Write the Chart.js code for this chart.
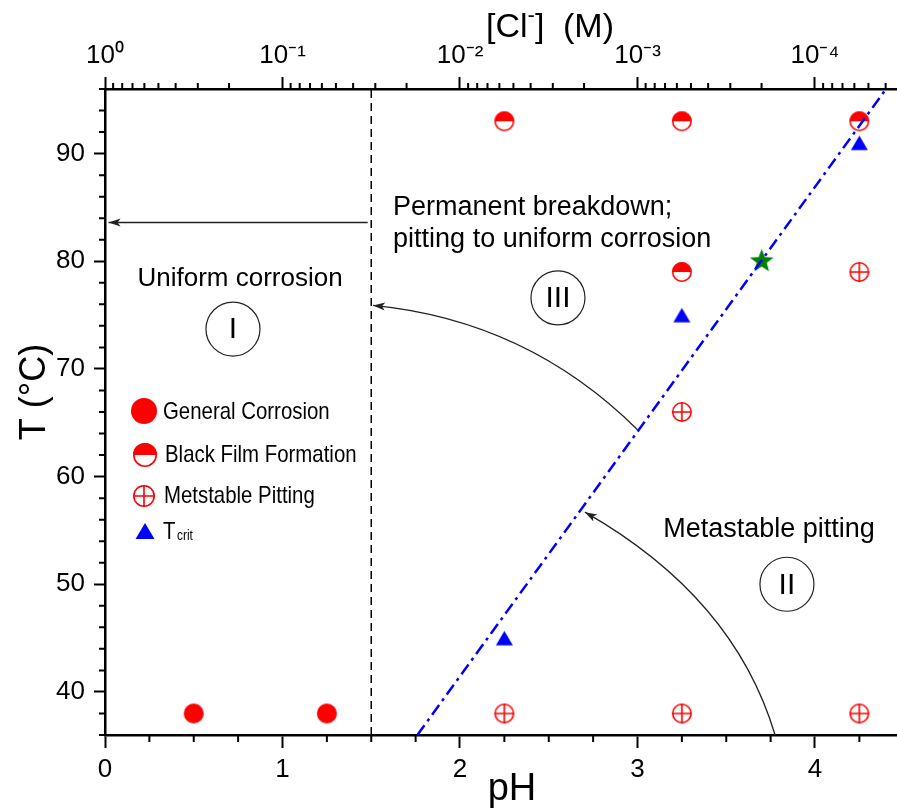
<!DOCTYPE html>
<html>
<head>
<meta charset="utf-8">
<title>Corrosion regimes vs pH and temperature</title>
<script src="https://cdn.jsdelivr.net/npm/chart.js@4.4.1/dist/chart.umd.min.js"></script>
<style>
  html, body { margin: 0; padding: 0; background: #fff; overflow: hidden; }
  #wrap { width: 897px; height: 811px; position: relative; }
</style>
</head>
<body>
<div id="wrap"><canvas id="regimeChart"></canvas></div>
<script>
// Observed behaviour at each test condition (pH, temperature in degC)
const generalPH = [0.5, 1.25];
const generalT = [38, 38];
const filmPH = [2.25, 3.25, 4.25, 3.25];
const filmT = [93, 93, 93, 79];
const pittingPH = [2.25, 3.25, 4.25, 3.25, 4.25];
const pittingT = [38, 38, 38, 66, 79];
const tcritPH = [2.25, 3.25, 4.25];
const tcritT = [45, 75, 91];
const starPH = [3.7];
const starT = [80];

// Region boundaries
const boundaryPH = [1.76, 4.40];
const boundaryT = [36, 96];
const dividerPH = [1.5, 1.5];
const dividerT = [36, 96];

// Axis ticks
const phTicks = [0, 1, 2, 3, 4];
const tempTicks = [40, 50, 60, 70, 80, 90];
const chlorideLabels = ['10⁰', '10⁻¹', '10⁻²', '10⁻³', '10⁻⁴'];

// Arrows in (pH, T): start, bend control, tip
const arrowPaths = [
    [[1.48, 83.6], [0.75, 83.6], [0.02, 83.6]],
    [[3.0, 64.35], [2.38, 74.5], [1.51, 75.9]],
    [[3.775, 36], [3.544, 48.8], [2.704, 56.7]]
];

// Region names and numerals, placed in (pH, T)
const regionTexts = [
    { text: 'Uniform corrosion', ph: 0.761, t: 77.7, align: 'center', size: 26 },
    { text: 'Permanent breakdown;', ph: 1.623, t: 84.3, align: 'left', size: 27 },
    { text: 'pitting to uniform corrosion', ph: 1.623, t: 81.3, align: 'left', size: 27 },
    { text: 'Metastable pitting', ph: 3.741, t: 54.4, align: 'center', size: 27 }
];
const regionNumerals = [
    { text: 'I', ph: 0.721, t: 73.7 },
    { text: 'III', ph: 2.552, t: 76.6 },
    { text: 'II', ph: 3.842, t: 50.0 }
];

const FONT = "'Liberation Sans', Arial, Helvetica, sans-serif";
const RED = '#ff0000';
const BLUE = '#0000ff';
const GREEN = '#008000';
const X_MAX = 4.462;

const toPoints = (xs, ys) => xs.map((x, i) => ({ x: x, y: ys[i] }));

function drawMarker(ctx, kind, x, y, r) {
    ctx.save();
    ctx.lineWidth = 1.6;
    ctx.strokeStyle = RED;
    if (kind === 'general') {
        ctx.fillStyle = RED;
        ctx.beginPath(); ctx.arc(x, y, r, 0, Math.PI * 2); ctx.fill();
    } else if (kind === 'film') {
        ctx.fillStyle = '#fff';
        ctx.beginPath(); ctx.arc(x, y, r, 0, Math.PI * 2); ctx.fill();
        ctx.fillStyle = RED;
        ctx.beginPath(); ctx.arc(x, y, r, Math.PI, 0); ctx.closePath(); ctx.fill();
        ctx.beginPath(); ctx.arc(x, y, r - 0.8, 0, Math.PI * 2); ctx.stroke();
    } else if (kind === 'pitting') {
        ctx.beginPath(); ctx.arc(x, y, r - 0.8, 0, Math.PI * 2); ctx.stroke();
        ctx.beginPath();
        ctx.moveTo(x - r, y); ctx.lineTo(x + r, y);
        ctx.moveTo(x, y - r); ctx.lineTo(x, y + r);
        ctx.stroke();
    } else if (kind === 'tcrit') {
        ctx.fillStyle = BLUE;
        ctx.beginPath();
        ctx.moveTo(x, y - r * 0.85);
        ctx.lineTo(x + r, y + r * 0.85);
        ctx.lineTo(x - r, y + r * 0.85);
        ctx.closePath(); ctx.fill();
    } else if (kind === 'star') {
        ctx.fillStyle = GREEN;
        ctx.beginPath();
        for (let k = 0; k < 10; k++) {
            const rad = k % 2 === 0 ? r : r * 0.42;
            const a = -Math.PI / 2 + k * Math.PI / 5;
            const px = x + Math.cos(a) * rad, py = y + Math.sin(a) * rad;
            k === 0 ? ctx.moveTo(px, py) : ctx.lineTo(px, py);
        }
        ctx.closePath(); ctx.fill();
    }
    ctx.restore();
}

function markerImage(kind, r) {
    const c = document.createElement('canvas');
    const s = Math.ceil(r * 2 + 4);
    c.width = c.height = s;
    drawMarker(c.getContext('2d'), kind, s / 2, s / 2, r);
    return c;
}

// Minor ticks, axis titles, annotations and the in-plot legend
const decorations = {
    id: 'decorations',
    afterDraw(chart) {
        const { ctx, chartArea: area } = chart;
        const x = chart.scales.x, y = chart.scales.y;
        const px = v => x.getPixelForValue(v);
        const py = v => y.getPixelForValue(v);
        ctx.save();

        // minor ticks
        ctx.strokeStyle = '#000';
        ctx.lineWidth = 2;
        ctx.beginPath();
        for (let v = 0.25; v < X_MAX; v += 0.25) {
            if (Number.isInteger(v)) continue;
            ctx.moveTo(px(v), area.bottom); ctx.lineTo(px(v), area.bottom + 7);
        }
        for (let v = 36; v <= 96; v += 2) {
            if (v % 10 === 0) continue;
            ctx.moveTo(area.left, py(v)); ctx.lineTo(area.left - 6, py(v));
        }
        for (let d = 1; d <= 5; d++) {
            for (let m = 2; m <= 9; m++) {
                const ph = d - Math.log10(m);
                if (ph > X_MAX) continue;
                ctx.moveTo(px(ph), area.top); ctx.lineTo(px(ph), area.top - 6);
            }
        }
        ctx.stroke();

        // arrows
        ctx.strokeStyle = '#222';
        ctx.fillStyle = '#222';
        ctx.lineWidth = 1.3;
        arrowPaths.forEach(([s, c, e]) => {
            const x0 = px(s[0]), y0 = py(s[1]);
            const xc = px(c[0]), yc = py(c[1]);
            const x1 = px(e[0]), y1 = py(e[1]);
            ctx.beginPath();
            ctx.moveTo(x0, y0);
            ctx.quadraticCurveTo(xc, yc, x1, y1);
            ctx.stroke();
            const ang = Math.atan2(y1 - yc, x1 - xc);
            ctx.save();
            ctx.translate(x1, y1);
            ctx.rotate(ang);
            ctx.beginPath();
            ctx.moveTo(0, 0);
            ctx.lineTo(-12, -4);
            ctx.lineTo(-9, 0);
            ctx.lineTo(-12, 4);
            ctx.closePath();
            ctx.fill();
            ctx.restore();
        });

        // region text
        ctx.fillStyle = '#000';
        ctx.textBaseline = 'alphabetic';
        regionTexts.forEach(r => {
            ctx.font = r.size + 'px ' + FONT;
            ctx.textAlign = r.align;
            ctx.fillText(r.text, px(r.ph), py(r.t));
        });

        // circled numerals
        ctx.lineWidth = 1.2;
        ctx.strokeStyle = '#222';
        ctx.textAlign = 'center';
        ctx.textBaseline = 'middle';
        ctx.font = '30px ' + FONT;
        regionNumerals.forEach(r => {
            ctx.beginPath();
            ctx.arc(px(r.ph), py(r.t), 27, 0, Math.PI * 2);
            ctx.stroke();
            ctx.fillText(r.text, px(r.ph), py(r.t) + 1);
        });

        // axis titles
        ctx.textBaseline = 'alphabetic';
        ctx.textAlign = 'center';
        ctx.font = '38px ' + FONT;
        ctx.fillText('pH', 512, 800);

        ctx.save();
        ctx.translate(35, 392);
        ctx.rotate(-Math.PI / 2);
        ctx.font = '36px ' + FONT;
        ctx.textBaseline = 'middle';
        ctx.fillText('T (°C)', 0, 0);
        ctx.restore();

        ctx.textAlign = 'left';
        ctx.font = '34px ' + FONT;
        let tx = 486;
        ctx.fillText('[Cl', tx, 37);
        tx += ctx.measureText('[Cl').width;
        ctx.font = '22px ' + FONT;
        ctx.fillText('-', tx, 22);
        tx += ctx.measureText('-').width;
        ctx.font = '34px ' + FONT;
        ctx.fillText(']', tx, 37);
        ctx.fillText('(M)', 563, 37);

        // legend
        drawMarker(ctx, 'general', 144, 411, 13);
        drawMarker(ctx, 'film', 145, 455, 12);
        drawMarker(ctx, 'pitting', 144, 496, 11);
        drawMarker(ctx, 'tcrit', 145, 531, 9.5);
        const legendRows = [
            ['General Corrosion', 163, 419],
            ['Black Film Formation', 165, 462],
            ['Metstable Pitting', 164, 503],
            ['T', 163, 539]
        ];
        ctx.font = '24px ' + FONT;
        legendRows.forEach(([label, lx, ly]) => {
            ctx.save();
            ctx.translate(lx, ly);
            ctx.scale(0.85, 1);
            ctx.fillText(label, 0, 0);
            ctx.restore();
        });
        ctx.save();
        ctx.translate(177, 540);
        ctx.scale(0.85, 1);
        ctx.font = '14px ' + FONT;
        ctx.fillText('crit', 0, 0);
        ctx.restore();

        ctx.restore();
    }
};

const axisBorder = { display: true, color: '#000', width: 2.5 };
const tickFont = { size: 26, family: FONT };

// Horizontal axes keep no side padding so the plot runs to the right edge
const fitHorizontal = h => s => {
    s.height = h;
    s.paddingLeft = 0;
    s.paddingRight = 0;
};

new Chart(document.getElementById('regimeChart'), {
    type: 'scatter',
    data: {
        datasets: [
            {
                label: 'Boundary',
                data: toPoints(boundaryPH, boundaryT),
                showLine: true,
                borderColor: BLUE,
                borderWidth: 2.5,
                borderDash: [12, 5, 3, 5],
                pointRadius: 0,
                xAxisID: 'x', yAxisID: 'y'
            },
            {
                label: 'Divider',
                data: toPoints(dividerPH, dividerT),
                showLine: true,
                borderColor: '#000',
                borderWidth: 1.5,
                borderDash: [8, 5],
                pointRadius: 0,
                xAxisID: 'x', yAxisID: 'y'
            },
            {
                label: 'General Corrosion',
                data: toPoints(generalPH, generalT),
                pointStyle: markerImage('general', 10),
                pointRadius: 10,
                xAxisID: 'x', yAxisID: 'y'
            },
            {
                label: 'Black Film Formation',
                data: toPoints(filmPH, filmT),
                pointStyle: markerImage('film', 10),
                pointRadius: 10,
                xAxisID: 'x', yAxisID: 'y'
            },
            {
                label: 'Metstable Pitting',
                data: toPoints(pittingPH, pittingT),
                pointStyle: markerImage('pitting', 10),
                pointRadius: 10,
                xAxisID: 'x', yAxisID: 'y'
            },
            {
                label: 'Tcrit',
                data: toPoints(tcritPH, tcritT),
                pointStyle: markerImage('tcrit', 8.5),
                pointRadius: 9,
                xAxisID: 'x', yAxisID: 'y'
            },
            {
                label: 'Star',
                data: toPoints(starPH, starT),
                pointStyle: markerImage('star', 12.5),
                pointRadius: 12,
                xAxisID: 'x', yAxisID: 'y'
            }
        ]
    },
    options: {
        responsive: true,
        maintainAspectRatio: false,
        animation: false,
        layout: { padding: 0, autoPadding: false },
        plugins: {
            legend: { display: false },
            tooltip: { enabled: false }
        },
        scales: {
            x: {
                type: 'linear',
                position: 'bottom',
                min: 0,
                max: X_MAX,
                afterBuildTicks: s => { s.ticks = phTicks.map(v => ({ value: v })); },
                afterFit: fitHorizontal(76),
                ticks: { font: tickFont, color: '#000', padding: 6, autoSkip: false, maxRotation: 0 },
                grid: { drawOnChartArea: false, tickLength: 13, tickWidth: 2, tickColor: '#000' },
                border: axisBorder
            },
            x2: {
                type: 'linear',
                position: 'top',
                min: 0,
                max: X_MAX,
                afterBuildTicks: s => { s.ticks = phTicks.map(v => ({ value: v })); },
                afterFit: fitHorizontal(89),
                ticks: {
                    font: tickFont, color: '#000', padding: 6, autoSkip: false, maxRotation: 0,
                    callback: v => chlorideLabels[phTicks.indexOf(v)]
                },
                grid: { drawOnChartArea: false, tickLength: 12, tickWidth: 2, tickColor: '#000' },
                border: axisBorder
            },
            y: {
                type: 'linear',
                position: 'left',
                min: 36,
                max: 96,
                afterBuildTicks: s => { s.ticks = tempTicks.map(v => ({ value: v })); },
                afterFit: s => { s.width = 105; s.paddingTop = 0; s.paddingBottom = 0; },
                ticks: { font: tickFont, color: '#000', padding: 9, autoSkip: false },
                grid: { drawOnChartArea: false, tickLength: 11, tickWidth: 2, tickColor: '#000' },
                border: axisBorder
            }
        }
    },
    plugins: [decorations]
});
</script>
</body>
</html>
